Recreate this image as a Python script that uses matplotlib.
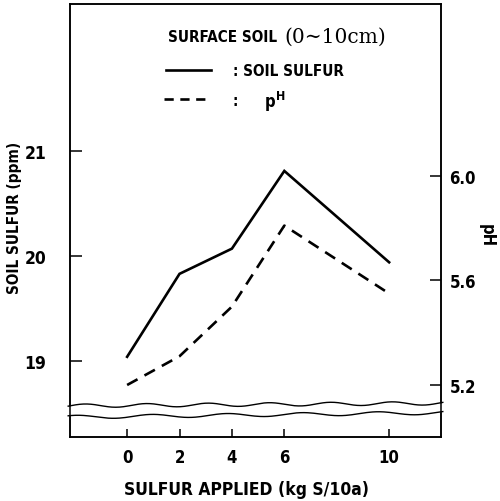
import numpy as np
import matplotlib.pyplot as plt

# Données
sulfur_applied = [0, 2, 4, 6, 10]
soil_sulfur = [19.04, 19.83, 20.07, 20.81, 19.94]
ph_values = [5.20, 5.31, 5.50, 5.81, 5.55]

x_ticks = [0, 2, 4, 6, 10]
s_ticks = [19, 20, 21]
ph_ticks = [5.2, 5.6, 6.0]
ph_tick_labels = ['5.2', '5.6', '6.0']

W, H = 500, 502
fig = plt.figure(figsize=(W / 100, H / 100), dpi=100)
ax = fig.add_axes([70 / W, 1 - 438 / H, 371 / W, 433 / H])
ax2 = ax.twinx()

bold = dict(fontweight='bold', family='DejaVu Sans', fontstretch='condensed')

ax.plot(sulfur_applied, soil_sulfur, color='black', lw=1.9, solid_joinstyle='miter')
ax2.plot(sulfur_applied, ph_values, color='black', lw=1.9, dashes=(4.5, 3))

ax.set_xlim(-2.18, 11.98)
ax.set_ylim(18.276, 22.40)
ax2.set_ylim(5.001, 6.658)

ax.set_xticks(x_ticks)
ax.set_yticks(s_ticks)
ax2.set_yticks(ph_ticks)
ax2.set_yticklabels(ph_tick_labels)

for a in (ax, ax2):
    for sp in a.spines.values():
        sp.set_linewidth(1.1)
ax.tick_params(axis='y', direction='in', length=8.5, width=1.1, pad=17, labelsize=12.5)
ax.tick_params(axis='x', direction='in', length=5.5, width=1.1, pad=8, labelsize=12)
ax2.tick_params(axis='y', direction='in', length=8, width=1.1, pad=6, labelsize=12)
for lab in ax.get_xticklabels() + ax.get_yticklabels() + ax2.get_yticklabels():
    lab.set_fontweight('bold')
    lab.set_fontstretch('condensed')

# Rupture d'axe (bande blanche entre deux traits ondulés)
t = np.linspace(-0.01, 1.01, 200)
y_up = 0.072 + 0.004 * np.sin(t * 38) + 0.006 * t
y_lo = 0.046 + 0.004 * np.sin(t * 31 + 1.0) + 0.010 * t
ax.fill_between(t, y_lo, y_up, transform=ax.transAxes, color='white',
                zorder=5, clip_on=False, lw=0)
ax.plot(t[1:-1], y_up[1:-1], transform=ax.transAxes, color='black', lw=1.0,
        zorder=6, clip_on=False)
ax.plot(t[1:-1], y_lo[1:-1], transform=ax.transAxes, color='black', lw=1.0,
        zorder=6, clip_on=False)

# Libellés des axes
fig.text(15 / W, 1 - 218 / H, 'SOIL SULFUR (ppm)', rotation=90, ha='center',
         va='center', fontsize=11, **bold)
fig.text(487 / W, 1 - 236 / H, 'pH', rotation=-90, ha='center', va='center',
         fontsize=12, **bold)
fig.text(246 / W, 1 - 490 / H, 'SULFUR APPLIED (kg S/10a)',
         ha='center', va='center', fontsize=12.5, **bold)

# Légende
fig.text(168 / W, 1 - 38 / H, 'SURFACE SOIL', ha='left', va='center',
         fontsize=11, **bold)
fig.text(284 / W, 1 - 37 / H, '(0\u223c10cm)', ha='left', va='center',
         fontsize=14.5, family='DejaVu Serif')
fig.add_artist(plt.Line2D([166 / W, 211 / W], [1 - 71 / H, 1 - 71 / H],
                          color='black', lw=1.9))
fig.add_artist(plt.Line2D([164 / W, 208 / W], [1 - 100 / H, 1 - 100 / H],
                          color='black', lw=1.9, dashes=(3.5, 2.5)))
fig.text(233 / W, 1 - 72 / H, ': SOIL SULFUR', ha='left', va='center',
         fontsize=11, **bold)
fig.text(232 / W, 1 - 101 / H, ':', ha='left', va='center', fontsize=11, **bold)
fig.text(265 / W, 1 - 102 / H, 'p', ha='left', va='center', fontsize=12, **bold)
fig.text(276 / W, 1 - 96 / H, 'H', ha='left', va='center', fontsize=9, **bold)

fig.savefig('out.png', dpi=100)
